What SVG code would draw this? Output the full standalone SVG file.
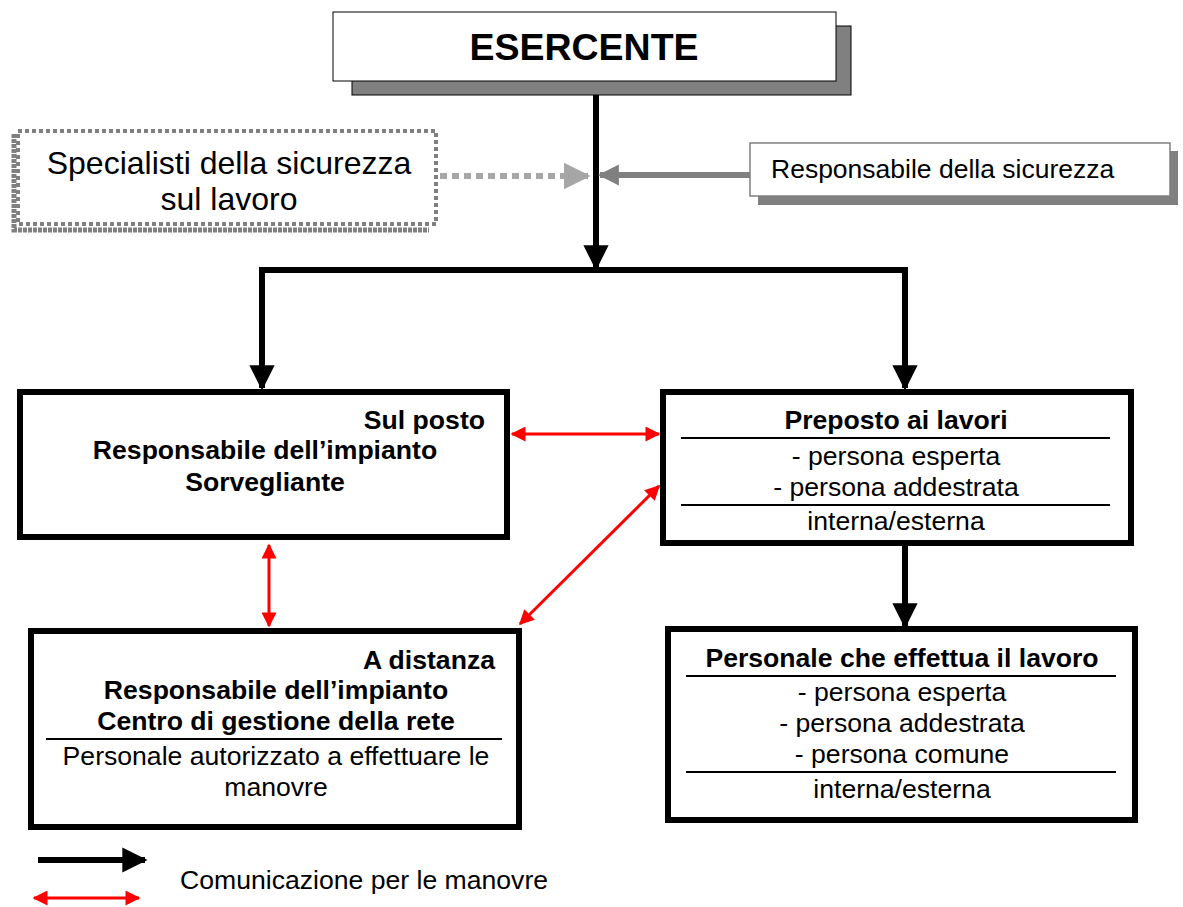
<svg xmlns="http://www.w3.org/2000/svg" width="1183" height="907" viewBox="0 0 1183 907">
<defs>
<style>
.t{font-family:"Liberation Sans",Arial,sans-serif;fill:#000}
.b{font-weight:bold;font-size:26.6px}
.n{font-size:26.6px}
.box{fill:#fff;stroke:#000;stroke-width:6}
.sep{stroke:#000;stroke-width:2}
.blk{stroke:#000;stroke-width:6;fill:none}
.red{stroke:#ff0000;stroke-width:3;fill:none}
</style>
<marker id="ab" viewBox="0 0 10 10" refX="9" refY="5" markerWidth="4.2" markerHeight="4.2" orient="auto" markerUnits="strokeWidth"><path d="M0,0 L10,5 L0,10 z" fill="#000"/></marker>
<marker id="ar" viewBox="0 0 10 10" refX="9" refY="5" markerWidth="5.5" markerHeight="5" orient="auto" markerUnits="strokeWidth"><path d="M0,0 L10,5 L0,10 z" fill="#ff0000"/></marker>
<marker id="arS" viewBox="0 0 10 10" refX="1" refY="5" markerWidth="5.5" markerHeight="5" orient="auto" markerUnits="strokeWidth"><path d="M10,0 L0,5 L10,10 z" fill="#ff0000"/></marker>
<marker id="ag" viewBox="0 0 10 10" refX="9" refY="5" markerWidth="3.5" markerHeight="4" orient="auto" markerUnits="strokeWidth"><path d="M0,0 L10,5 L0,10 z" fill="#808080"/></marker>
<marker id="al" viewBox="0 0 10 10" refX="9" refY="5" markerWidth="4.5" markerHeight="5" orient="auto" markerUnits="strokeWidth"><path d="M0,0 L10,5 L0,10 z" fill="#a6a6a6"/></marker>
</defs>

<g id="connectors">
<path class="blk" d="M596,81 V268" marker-end="url(#ab)"/>
<path class="blk" d="M262,388 V270 H905 V388" marker-end="url(#ab)"/>
<path class="blk" d="M262,300 V388" marker-end="url(#ab)"/>
<path class="blk" d="M905,543 V626" marker-end="url(#ab)"/>
<path d="M440,176 H570" stroke="#a6a6a6" stroke-width="6" stroke-dasharray="7,5" fill="none"/>
<path d="M570,176 H588" stroke="#a6a6a6" stroke-width="6" fill="none" marker-end="url(#al)"/>
<path d="M750,175 H600" stroke="#808080" stroke-width="6" fill="none" marker-end="url(#ag)"/>
<path class="red" d="M512,434 H659" marker-start="url(#arS)" marker-end="url(#ar)"/>
<path class="red" d="M520,624 L659,486" marker-start="url(#arS)" marker-end="url(#ar)"/>
<path class="red" d="M269,545 V626" marker-start="url(#arS)" marker-end="url(#ar)"/>
</g>

<g id="esercente">
<rect x="352" y="26" width="499" height="69" fill="#808080" stroke="#000" stroke-width="1"/>
<rect x="333" y="12" width="503" height="69" fill="#fff" stroke="#000" stroke-width="1"/>
<text class="t" x="584" y="60" font-size="37.5" font-weight="bold" text-anchor="middle">ESERCENTE</text>
</g>

<g id="specialisti">
<path d="M14,134 V230 H429" stroke="#808080" stroke-width="5" fill="none" stroke-dasharray="4,1"/>
<rect x="18" y="131" width="418" height="93" fill="#fff" stroke="#808080" stroke-width="4" stroke-dasharray="4,3"/>
<text class="t" x="229" y="174" font-size="32" text-anchor="middle">Specialisti della sicurezza</text>
<text class="t" x="229" y="210" font-size="32" text-anchor="middle">sul lavoro</text>
</g>

<g id="responsabile-sicurezza">
<rect x="758" y="151" width="420" height="54" fill="#808080"/>
<rect x="750" y="143" width="420" height="53" fill="#fff" stroke="#808080" stroke-width="1.5"/>
<text class="t" x="771" y="178" font-size="26.5">Responsabile della sicurezza</text>
</g>

<g id="sul-posto">
<rect class="box" x="20" y="392" width="487" height="145"/>
<text class="t b" x="485" y="429" text-anchor="end">Sul posto</text>
<text class="t b" x="265" y="459" text-anchor="middle">Responsabile dell’impianto</text>
<text class="t b" x="265" y="491" text-anchor="middle">Sorvegliante</text>
</g>

<g id="preposto">
<rect class="box" x="663" y="392" width="468" height="151"/>
<text class="t b" x="896" y="429" text-anchor="middle">Preposto ai lavori</text>
<line class="sep" x1="681" y1="438" x2="1110" y2="438"/>
<text class="t n" x="896" y="465" text-anchor="middle">- persona esperta</text>
<text class="t n" x="896" y="496" text-anchor="middle">- persona addestrata</text>
<line class="sep" x1="681" y1="505" x2="1110" y2="505"/>
<text class="t n" x="896" y="530" text-anchor="middle">interna/esterna</text>
</g>

<g id="a-distanza">
<rect class="box" x="31" y="631" width="488" height="196"/>
<text class="t b" x="495" y="669" text-anchor="end">A distanza</text>
<text class="t b" x="276" y="699" text-anchor="middle">Responsabile dell’impianto</text>
<text class="t b" x="276" y="730" text-anchor="middle">Centro di gestione della rete</text>
<line class="sep" x1="46" y1="739" x2="502" y2="739"/>
<text class="t n" x="276" y="765" text-anchor="middle">Personale autorizzato a effettuare le</text>
<text class="t n" x="276" y="796" text-anchor="middle">manovre</text>
</g>

<g id="personale">
<rect class="box" x="668" y="629" width="467" height="191"/>
<text class="t b" x="902" y="667" text-anchor="middle">Personale che effettua il lavoro</text>
<line class="sep" x1="686" y1="676" x2="1116" y2="676"/>
<text class="t n" x="902" y="701" text-anchor="middle">- persona esperta</text>
<text class="t n" x="902" y="732" text-anchor="middle">- persona addestrata</text>
<text class="t n" x="902" y="763" text-anchor="middle">- persona comune</text>
<line class="sep" x1="686" y1="772" x2="1116" y2="772"/>
<text class="t n" x="902" y="798" text-anchor="middle">interna/esterna</text>
</g>

<g id="legend">
<path class="blk" d="M38,860 H145" marker-end="url(#ab)"/>
<path class="red" d="M34,898 H139" marker-start="url(#arS)" marker-end="url(#ar)"/>
<text class="t" x="180" y="889" font-size="26.6">Comunicazione per le manovre</text>
</g>
</svg>
